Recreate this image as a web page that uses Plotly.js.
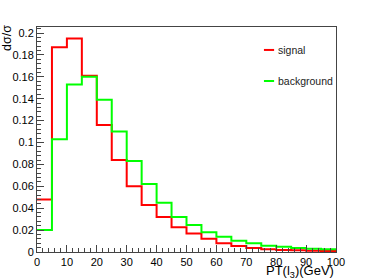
<!DOCTYPE html>
<html><head><meta charset="utf-8">
<script src="https://cdn.plot.ly/plotly-3.0.1.min.js"></script>
<style>html,body{margin:0;padding:0;background:#fff}#c{width:374px;height:280px}</style>
</head><body><div id="c"></div>
<script>
// bin edges (GeV), 5 GeV bins from 0 to 100
const binEdges = [0,5,10,15,20,25,30,35,40,45,50,55,60,65,70,75,80,85,90,95,100];
// normalized distributions dσ/σ per bin
const signal = [0.048,0.187,0.195,0.161,0.116,0.084,0.060,0.043,0.032,0.0225,0.017,0.012,0.008,0.0055,0.0036,0.0026,0.0019,0.0015,0.0012,0.001];
const background = [0.020,0.103,0.153,0.160,0.139,0.110,0.083,0.062,0.045,0.032,0.0247,0.018,0.014,0.0103,0.008,0.0058,0.0048,0.0037,0.003,0.0025];
const names = ["signal","background"];
const colors = ["#ff0000","#00ff00"];

function stepY(vals){ return vals.concat([vals[vals.length-1]]); }

const traces = [signal, background].map((v,i)=>({
  x: binEdges, y: stepY(v), type:'scatter', mode:'lines',
  line:{shape:'hv', color:colors[i], width:2},
  name:names[i], showlegend:false
}));

// custom ROOT-like legend (paper coordinates)
const legY = [0.898, 0.760];
const shapes = names.map((n,i)=>({type:'line', xref:'paper', yref:'paper',
  x0:0.759, x1:0.793, y0:legY[i], y1:legY[i], line:{color:colors[i], width:2}}));
const legText = names.map((n,i)=>({text:n, xref:'paper', yref:'paper', x:0.799, y:legY[i],
  xanchor:'left', yanchor:'middle', showarrow:false, font:{size:10.5, color:'#222'}}));

const axisCol = '#444';
const layout = {
  width:374, height:280,
  margin:{l:37, r:38, t:27, b:28},
  paper_bgcolor:'#fff', plot_bgcolor:'#fff',
  font:{family:'Liberation Sans, Arial, sans-serif', size:11, color:'#000'},
  showlegend:false,
  shapes: shapes,
  xaxis:{range:[0,100], tickmode:'linear', tick0:0, dtick:10, ticks:'inside', ticklen:7,
         tickcolor:axisCol, showline:true, linecolor:axisCol, linewidth:1, mirror:true,
         showgrid:false, zeroline:false, tickfont:{size:11},
         minor:{ticks:'inside', ticklen:4, dtick:2, tickcolor:axisCol, showgrid:false}},
  yaxis:{range:[0,0.2055], tickmode:'linear', tick0:0, dtick:0.02, ticks:'inside', ticklen:7,
         tickcolor:axisCol, showline:true, linecolor:axisCol, linewidth:1, mirror:true,
         showgrid:false, zeroline:false, tickfont:{size:11},
         minor:{ticks:'inside', ticklen:4, dtick:0.004, tickcolor:axisCol, showgrid:false}},
  annotations:[
    {text:'dσ/σ', xref:'paper', yref:'paper', x:-0.1, y:0.952, textangle:-90,
     showarrow:false, xanchor:'center', yanchor:'middle', font:{size:12.5}},
    {text:'PT(l<sub>3</sub>)(GeV)', xref:'paper', yref:'paper', x:1.0, y:-0.04,
     showarrow:false, xanchor:'right', yanchor:'top', font:{size:13}}
  ].concat(legText)
};
Plotly.newPlot('c', traces, layout, {staticPlot:true, displayModeBar:false});
</script></body></html>
